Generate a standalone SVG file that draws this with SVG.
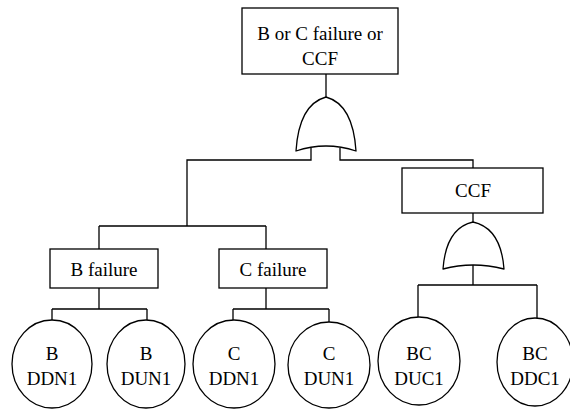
<svg xmlns="http://www.w3.org/2000/svg" width="570" height="410" viewBox="0 0 570 410">
  <style>
    .box { fill: #fff; stroke: #000; stroke-width: 1.3; }
    .ev { fill: #fff; stroke: #000; stroke-width: 1.3; }
    .gate { fill: #fff; stroke: #000; stroke-width: 1.3; stroke-linejoin: round; }
    .wire { fill: none; stroke: #000; stroke-width: 1.3; }
    .lbl { font-size: 19px; fill: #000; text-anchor: middle; }
  </style>
  <rect width="570" height="410" fill="#fff"/>

  <!-- connectors -->
  <g id="connectors">
    <path class="wire" d="M326,74 V97"/>
    <path class="wire" d="M311,148 V160 H187 V226"/>
    <path class="wire" d="M340,148 V160 H473 V168"/>
    <path class="wire" d="M99,226 H266 M99,226 V249 M266,226 V249"/>
    <path class="wire" d="M99,288 V309 M52,309 H147 M52,309 V320 M147,309 V320"/>
    <path class="wire" d="M266,288 V309 M233,309 H329 M233,309 V320 M329,309 V322"/>
    <path class="wire" d="M473,213 V222"/>
    <path class="wire" d="M473,265 V285 M418,285 H537 M418,285 V317 M537,285 V318"/>
  </g>

  <g font-family="Liberation Serif, Times New Roman, serif">
  <!-- top event -->
  <g id="top">
    <rect class="box" x="242" y="8" width="156" height="66"/>
    <text class="lbl" x="320" y="40">B or C failure or</text>
    <text class="lbl" x="320" y="65">CCF</text>
  </g>

  <!-- OR gate under the top event -->
  <g id="gate-top">
    <path class="gate" d="M296,151 C298,120 308,102 326,97 C344,102 354,120 356,151 Q326,141 296,151 Z"/>
  </g>

  <g id="b-failure">
    <rect class="box" x="50" y="249" width="108" height="39"/>
    <text class="lbl" x="104" y="276">B failure</text>
  </g>

  <g id="c-failure">
    <rect class="box" x="219" y="249" width="108" height="39"/>
    <text class="lbl" x="273" y="276">C failure</text>
  </g>

  <g id="ccf">
    <rect class="box" x="402" y="168" width="141" height="45"/>
    <text class="lbl" x="473" y="197">CCF</text>
  </g>

  <!-- OR gate under CCF -->
  <g id="gate-ccf">
    <path class="gate" d="M443,269 C445,242 455,226 473,222 C491,226 502,242 504,269 Q473,261 443,269 Z"/>
  </g>

  <!-- basic events -->
  <g id="b-ddn1">
    <ellipse class="ev" cx="52" cy="364" rx="40" ry="44"/>
    <text class="lbl" x="52" y="360">B</text>
    <text class="lbl" x="52" y="385">DDN1</text>
  </g>
  <g id="b-dun1">
    <ellipse class="ev" cx="146" cy="364" rx="39" ry="44"/>
    <text class="lbl" x="146" y="360">B</text>
    <text class="lbl" x="146" y="385">DUN1</text>
  </g>
  <g id="c-ddn1">
    <ellipse class="ev" cx="234" cy="364" rx="41" ry="44"/>
    <text class="lbl" x="234" y="360">C</text>
    <text class="lbl" x="234" y="385">DDN1</text>
  </g>
  <g id="c-dun1">
    <ellipse class="ev" cx="329" cy="365" rx="41" ry="43"/>
    <text class="lbl" x="329" y="360">C</text>
    <text class="lbl" x="329" y="385">DUN1</text>
  </g>
  <g id="bc-duc1">
    <ellipse class="ev" cx="419" cy="361" rx="41" ry="44"/>
    <text class="lbl" x="419" y="360">BC</text>
    <text class="lbl" x="419" y="385">DUC1</text>
  </g>
  <g id="bc-ddc1">
    <ellipse class="ev" cx="535" cy="362" rx="38" ry="44"/>
    <text class="lbl" x="535" y="360">BC</text>
    <text class="lbl" x="535" y="385">DDC1</text>
  </g>
  </g>
</svg>
